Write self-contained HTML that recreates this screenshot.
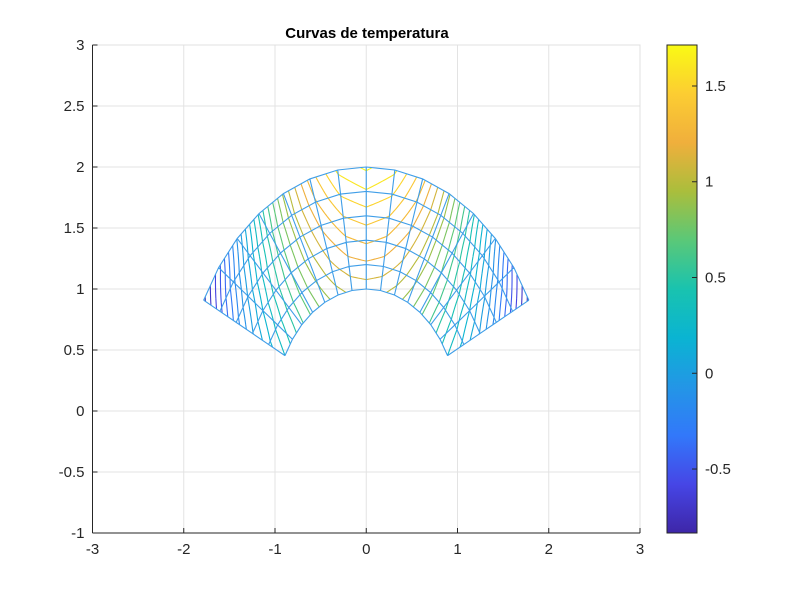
<!DOCTYPE html>
<html><head><meta charset="utf-8">
<style>
html,body{margin:0;padding:0;background:#fff;}
svg{display:block;font-family:"Liberation Sans",Arial,sans-serif;}
</style></head>
<body>
<svg id="chart" width="800" height="600" viewBox="0 0 800 600">
  <rect x="0" y="0" width="800" height="600" fill="#fff"/>
  <text x="367" y="38" text-anchor="middle" font-size="15" font-weight="bold" fill="#000">Curvas de temperatura</text>
  <g id="grid"></g>
  <g id="contours"></g>
  <g id="mesh"></g>
  <g id="axes"></g>
  <defs><linearGradient id="parula" x1="0" y1="1" x2="0" y2="0"></linearGradient></defs>
  <g id="cbar"></g>
</svg>
<script>
// ---- data ----
const xTicks = [-3,-2,-1,0,1,2,3];
const yTicks = [-1,-0.5,0,0.5,1,1.5,2,2.5,3];
const yTickLabels = ["-1","-0.5","0","0.5","1","1.5","2","2.5","3"];
const cbTicks = [-0.5,0,0.5,1,1.5];
const cbTickLabels = ["-0.5","0","0.5","1","1.5"];
const radii = [1,1.2,1.4,1.6,1.8,2];
const thetaStartDeg = 27;
const thetaEndDeg = 153;
const angleCount = 15;
const cLim = [-0.834,1.714];
const levelStep = 0.1;
// nodal temperatures: rows = rings (inner->outer), cols = angular nodes (right->left)
const temp0 = [0.30,0.44,0.58,0.73,0.86,0.96,1.03,1.05,1.03,0.96,0.86,0.73,0.58,0.44,0.30];
const temp1 = [0.17,0.34,0.53,0.73,0.91,1.06,1.15,1.18,1.15,1.06,0.91,0.73,0.53,0.34,0.17];
const temp2 = [-0.01,0.20,0.45,0.70,0.95,1.14,1.27,1.32,1.27,1.14,0.95,0.70,0.45,0.20,-0.01];
const temp3 = [-0.25,0.01,0.32,0.64,0.96,1.22,1.39,1.45,1.39,1.22,0.96,0.64,0.32,0.01,-0.25];
const temp4 = [-0.54,-0.23,0.14,0.55,0.96,1.29,1.51,1.59,1.51,1.29,0.96,0.55,0.14,-0.23,-0.54];
const temp5 = [-0.83,-0.54,-0.09,0.42,0.92,1.34,1.62,1.72,1.62,1.34,0.92,0.42,-0.09,-0.54,-0.83];
const temps = [temp0,temp1,temp2,temp3,temp4,temp5];

// ---- layout ----
const NS="http://www.w3.org/2000/svg";
const PX0=92.5, PX1=640, PY0=533, PY1=45;
const XMIN=-3,XMAX=3,YMIN=-1,YMAX=3;
const sx=v=>PX0+(v-XMIN)/(XMAX-XMIN)*(PX1-PX0);
const sy=v=>PY0-(v-YMIN)/(YMAX-YMIN)*(PY0-PY1);
function el(tag,attrs,parent){const e=document.createElementNS(NS,tag);for(const k in attrs)e.setAttribute(k,attrs[k]);parent.appendChild(e);return e;}
const parStops=[[0,[62,38,168]],[0.1,[70,70,230]],[0.2,[50,120,250]],[0.3,[35,150,230]],[0.4,[10,180,210]],[0.5,[25,195,175]],[0.6,[90,200,120]],[0.7,[170,190,60]],[0.8,[240,175,60]],[0.9,[252,205,50]],[1,[249,250,20]]];
function parula(t){t=Math.max(0,Math.min(1,t));for(let i=1;i<parStops.length;i++){if(t<=parStops[i][0]){const a=parStops[i-1],b=parStops[i];const f=(t-a[0])/(b[0]-a[0]);const c=a[1].map((v,k)=>Math.round(v+(b[1][k]-v)*f));return `rgb(${c[0]},${c[1]},${c[2]})`;}}return 'rgb(249,250,20)';}

const grid=document.getElementById('grid'), axes=document.getElementById('axes');
xTicks.forEach(v=>{
  const g=el('line',{x1:sx(v),x2:sx(v),y1:PY1,y2:PY0,stroke:'#e3e3e3','stroke-width':1},grid);
  
  
});
yTicks.forEach(v=>{
  const g=el('line',{x1:PX0,x2:PX1,y1:sy(v),y2:sy(v),stroke:'#e3e3e3','stroke-width':1},grid);
  
  
});
let bx=el('rect',{x:PX0,y:PY1,width:PX1-PX0,height:PY0-PY1,fill:'none',stroke:'#e0e0e0'},grid);


let xa=el('line',{x1:PX0,x2:PX1,y1:PY0,y2:PY0,stroke:'#262626'},axes);


let ya=el('line',{x1:PX0,x2:PX0,y1:PY0,y2:PY1,stroke:'#262626'},axes);


xTicks.forEach(v=>{
  el('line',{x1:sx(v),x2:sx(v),y1:PY0,y2:PY0-5,stroke:'#262626'},axes);
  const t=el('text',{x:sx(v),y:PY0+21,'text-anchor':'middle','font-size':15,fill:'#262626'},axes);
  t.textContent=String(v);
  
  
});
yTicks.forEach((v,i)=>{
  el('line',{x1:PX0,x2:PX0+5,y1:sy(v),y2:sy(v),stroke:'#262626'},axes);
  const t=el('text',{x:PX0-8,y:sy(v)+5,'text-anchor':'end','font-size':15,fill:'#262626'},axes);
  t.textContent=yTickLabels[i];
  
  
});

// ---- mesh nodes ----
const nodes=radii.map(r=>{const row=[];for(let j=0;j<angleCount;j++){const th=(thetaStartDeg+(thetaEndDeg-thetaStartDeg)*j/(angleCount-1))*Math.PI/180;row.push([r*Math.cos(th),r*Math.sin(th)]);}return row;});

// ---- contours (marching squares per element, bilinear) ----
const cg=document.getElementById('contours');
const levels=[];for(let L=Math.ceil(cLim[0]/levelStep)*levelStep;L<=cLim[1];L+=levelStep)levels.push(+L.toFixed(3));
const N=8;
let segsByLevel={};
for(let i=0;i<radii.length-1;i++)for(let j=0;j<angleCount-1;j++){
  const P=[nodes[i][j],nodes[i][j+1],nodes[i+1][j+1],nodes[i+1][j]];
  const T=[temps[i][j],temps[i][j+1],temps[i+1][j+1],temps[i+1][j]];
  const mapP=(u,v)=>[0,1].map(k=>P[0][k]*(1-u)*(1-v)+P[1][k]*u*(1-v)+P[2][k]*u*v+P[3][k]*(1-u)*v);
  const mapT=(u,v)=>T[0]*(1-u)*(1-v)+T[1]*u*(1-v)+T[2]*u*v+T[3]*(1-u)*v;
  for(let a=0;a<N;a++)for(let b=0;b<N;b++){
    const u0=a/N,u1=(a+1)/N,v0=b/N,v1=(b+1)/N;
    const c=[[u0,v0],[u1,v0],[u1,v1],[u0,v1]];
    const tv=c.map(p=>mapT(p[0],p[1]));
    levels.forEach(L=>{
      const pts=[];
      for(let e=0;e<4;e++){const p=c[e],q=c[(e+1)%4],ta=tv[e],tb=tv[(e+1)%4];
        if((ta<L)!==(tb<L)){const f=(L-ta)/(tb-ta);pts.push(mapP(p[0]+(q[0]-p[0])*f,p[1]+(q[1]-p[1])*f));}}
      if(pts.length>=2){(segsByLevel[L]=segsByLevel[L]||[]).push([pts[0],pts[1]]);if(pts.length===4)segsByLevel[L].push([pts[2],pts[3]]);}
    });
  }
}
levels.forEach(L=>{
  const s=segsByLevel[L];if(!s)return;
  const d=s.map(g=>`M${sx(g[0][0]).toFixed(2)},${sy(g[0][1]).toFixed(2)}L${sx(g[1][0]).toFixed(2)},${sy(g[1][1]).toFixed(2)}`).join('');
  const p=el('path',{d:d,fill:'none',stroke:parula((L-cLim[0])/(cLim[1]-cLim[0])),'stroke-width':1.1},cg);
  
  
});

// ---- mesh lines ----
const mg=document.getElementById('mesh');
let md='';
nodes.forEach(row=>{md+='M'+row.map(p=>sx(p[0]).toFixed(2)+','+sy(p[1]).toFixed(2)).join('L');});
for(let j=0;j<angleCount;j++){md+='M'+nodes.map(row=>sx(row[j][0]).toFixed(2)+','+sy(row[j][1]).toFixed(2)).join('L');}
const mp=el('path',{d:md,fill:'none',stroke:'#3f9ee8','stroke-width':1.1},mg);



// ---- colorbar ----
const grad=document.getElementById('parula');
parStops.forEach(s=>el('stop',{offset:s[0],'stop-color':parula(s[0])},grad));
const cb=document.getElementById('cbar');
const CX0=667,CX1=697,CY0=533,CY1=45;
const cy=v=>CY0-(v-cLim[0])/(cLim[1]-cLim[0])*(CY0-CY1);
const cr=el('rect',{x:CX0,y:CY1,width:CX1-CX0,height:CY0-CY1,fill:'url(#parula)',stroke:'#262626','stroke-width':1},cb);


cbTicks.forEach((v,i)=>{
  el('line',{x1:CX1-5,x2:CX1,y1:cy(v),y2:cy(v),stroke:'#262626'},cb);
  const t=el('text',{x:CX1+8,y:cy(v)+5,'font-size':15,fill:'#262626'},cb);
  t.textContent=cbTickLabels[i];
  
  
});
</script>
</body></html>
